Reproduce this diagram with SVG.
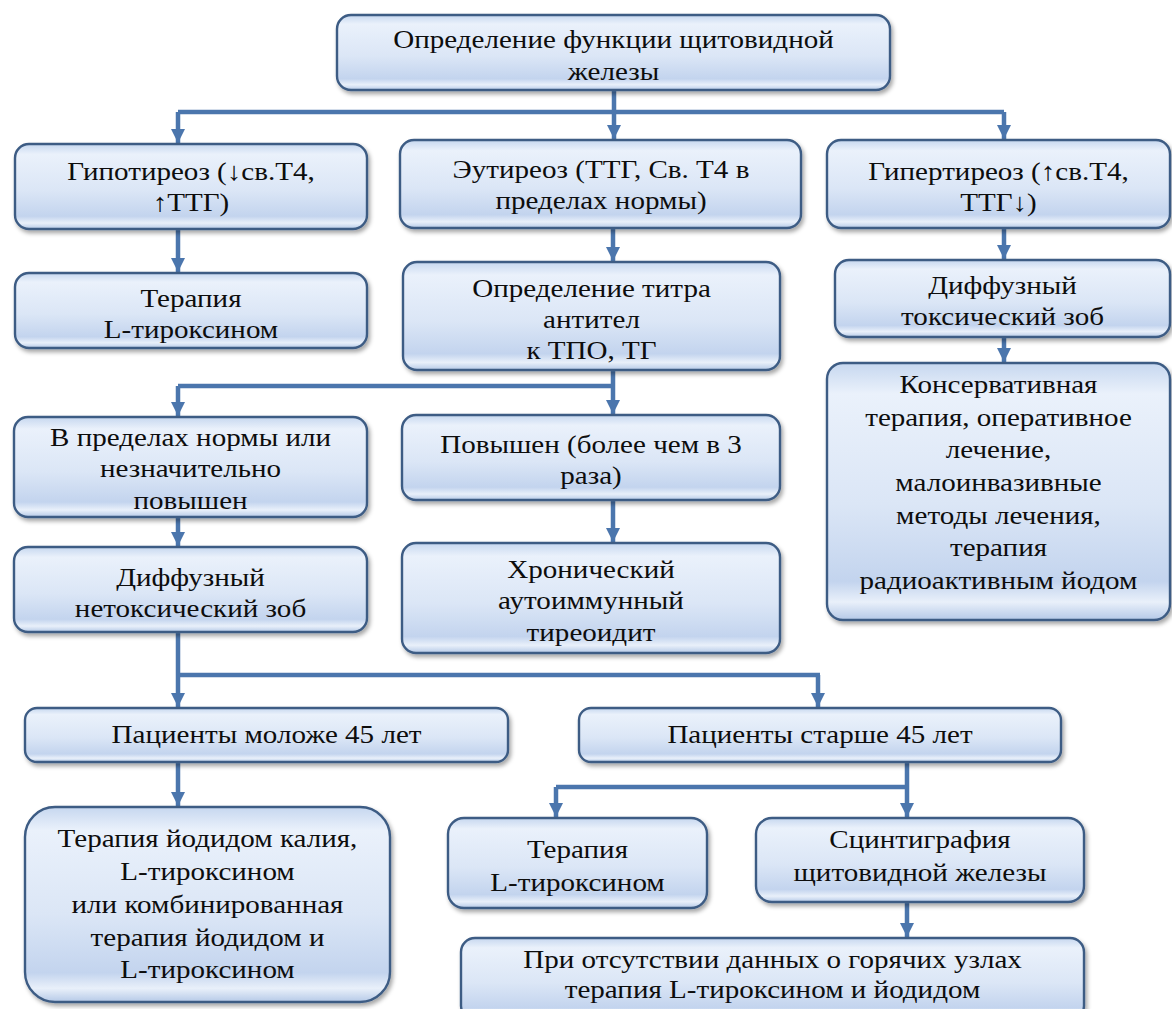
<svg xmlns="http://www.w3.org/2000/svg" width="1172" height="1009" viewBox="0 0 1172 1009">
<style>
.box{fill:url(#g);stroke:#3d5c84;stroke-width:2.4;filter:url(#sh)}
.t{font-family:'Liberation Serif','Times New Roman',serif;font-size:25.5px;fill:#0d0d0d;text-anchor:middle}
.c{fill:none;stroke:#4b76ad;stroke-width:4.5}
.a{stroke:#4b76ad;stroke-width:4.5;fill:none;marker-end:url(#ah)}
</style>
<defs>
<linearGradient id="g" x1="0" y1="0" x2="0" y2="1">
<stop offset="0" stop-color="#c6d7ef"/>
<stop offset="0.12" stop-color="#eaf1fb"/>
<stop offset="0.55" stop-color="#dbe6f6"/>
<stop offset="0.85" stop-color="#c3d4ee"/>
<stop offset="0.93" stop-color="#e9f0fa"/>
<stop offset="1" stop-color="#b5c9e7"/>
</linearGradient>
<filter id="sh" x="-5%" y="-10%" width="112%" height="130%">
<feDropShadow dx="2" dy="3" stdDeviation="2" flood-color="#000" flood-opacity="0.35"/>
</filter>
<marker id="ah" markerUnits="userSpaceOnUse" markerWidth="18" markerHeight="16" refX="14" refY="8" orient="auto">
<path d="M0,1 L14,8 L0,15 Z" fill="#4b76ad"/>
</marker>
</defs>

<g id="connectors">
<path class="c" d="M614,90 V112 M178,112 H1004"/>
<path class="a" d="M178,112 V143"/>
<path class="a" d="M614,112 V139"/>
<path class="a" d="M1004,112 V139"/>
<path class="a" d="M178,229 V272"/>
<path class="a" d="M613,228 V261"/>
<path class="a" d="M1004,228 V259"/>
<path class="a" d="M1004,337 V362"/>
<path class="c" d="M613,370 V386 M178,386 H615"/>
<path class="a" d="M178,386 V416"/>
<path class="a" d="M613,386 V414"/>
<path class="a" d="M178,517 V546"/>
<path class="a" d="M613,500 V542"/>
<path class="c" d="M178,632 V675 M178,675 H820"/>
<path class="a" d="M178,675 V707"/>
<path class="a" d="M818,675 V707"/>
<path class="a" d="M178,762 V806"/>
<path class="c" d="M907,762 V787 M556,787 H909"/>
<path class="a" d="M556,787 V817"/>
<path class="a" d="M907,787 V817"/>
<path class="a" d="M907,902 V937"/>
</g>

<g id="n1"><rect class="box" x="337" y="15" width="553" height="75" rx="14"/>
<text class="t" transform="translate(613.5 0) scale(1.14 1)"><tspan x="0" y="48">Определение функции щитовидной</tspan><tspan x="0" y="80">железы</tspan></text></g>

<g id="n2"><rect class="box" x="15" y="144" width="352" height="85" rx="14"/>
<text class="t" transform="translate(191 0) scale(1.14 1)"><tspan x="0" y="180">Гипотиреоз (↓св.Т4,</tspan><tspan x="0" y="211">↑ТТГ)</tspan></text></g>

<g id="n3"><rect class="box" x="400" y="140" width="401" height="88" rx="14"/>
<text class="t" transform="translate(601 0) scale(1.14 1)"><tspan x="0" y="178">Эутиреоз (ТТГ, Св. Т4 в</tspan><tspan x="0" y="209">пределах нормы)</tspan></text></g>

<g id="n4"><rect class="box" x="827" y="140" width="343" height="88" rx="14"/>
<text class="t" transform="translate(998.5 0) scale(1.14 1)"><tspan x="0" y="180">Гипертиреоз (↑св.Т4,</tspan><tspan x="0" y="211">ТТГ↓)</tspan></text></g>

<g id="n5"><rect class="box" x="15" y="273" width="352" height="75" rx="14"/>
<text class="t" transform="translate(191 0) scale(1.14 1)"><tspan x="0" y="307">Терапия</tspan><tspan x="0" y="338">L-тироксином</tspan></text></g>

<g id="n6"><rect class="box" x="403" y="262" width="377" height="108" rx="14"/>
<text class="t" transform="translate(591.5 0) scale(1.14 1)"><tspan x="0" y="297">Определение титра</tspan><tspan x="0" y="328">антител</tspan><tspan x="0" y="359">к ТПО, ТГ</tspan></text></g>

<g id="n7"><rect class="box" x="835" y="260" width="335" height="77" rx="14"/>
<text class="t" transform="translate(1002.5 0) scale(1.14 1)"><tspan x="0" y="294">Диффузный</tspan><tspan x="0" y="325">токсический зоб</tspan></text></g>

<g id="n8"><rect class="box" x="827" y="363" width="343" height="257" rx="16"/>
<text class="t" transform="translate(998.5 0) scale(1.14 1)"><tspan x="0" y="393">Консервативная</tspan><tspan x="0" y="425.7">терапия, оперативное</tspan><tspan x="0" y="458.3">лечение,</tspan><tspan x="0" y="491">малоинвазивные</tspan><tspan x="0" y="523.7">методы лечения,</tspan><tspan x="0" y="556.3">терапия</tspan><tspan x="0" y="589">радиоактивным йодом</tspan></text></g>

<g id="n9"><rect class="box" x="14" y="417" width="353" height="100" rx="14"/>
<text class="t" transform="translate(190.5 0) scale(1.14 1)"><tspan x="0" y="446">В пределах нормы или</tspan><tspan x="0" y="477">незначительно</tspan><tspan x="0" y="509">повышен</tspan></text></g>

<g id="n10"><rect class="box" x="402" y="415" width="378" height="85" rx="14"/>
<text class="t" transform="translate(591 0) scale(1.14 1)"><tspan x="0" y="453">Повышен (более чем в 3</tspan><tspan x="0" y="484">раза)</tspan></text></g>

<g id="n11"><rect class="box" x="14" y="547" width="353" height="85" rx="14"/>
<text class="t" transform="translate(190.5 0) scale(1.14 1)"><tspan x="0" y="586">Диффузный</tspan><tspan x="0" y="617">нетоксический зоб</tspan></text></g>

<g id="n12"><rect class="box" x="402" y="543" width="378" height="110" rx="14"/>
<text class="t" transform="translate(591 0) scale(1.14 1)"><tspan x="0" y="578">Хронический</tspan><tspan x="0" y="609">аутоиммунный</tspan><tspan x="0" y="641">тиреоидит</tspan></text></g>

<g id="n13"><rect class="box" x="25" y="708" width="483" height="54" rx="12"/>
<text class="t" transform="translate(266.5 0) scale(1.14 1)"><tspan x="0" y="743">Пациенты моложе 45 лет</tspan></text></g>

<g id="n14"><rect class="box" x="25" y="807" width="365" height="195" rx="30"/>
<text class="t" transform="translate(207.5 0) scale(1.14 1)"><tspan x="0" y="847">Терапия йодидом калия,</tspan><tspan x="0" y="880">L-тироксином</tspan><tspan x="0" y="913">или комбинированная</tspan><tspan x="0" y="946">терапия йодидом и</tspan><tspan x="0" y="978">L-тироксином</tspan></text></g>

<g id="n15"><rect class="box" x="579" y="708" width="482" height="54" rx="12"/>
<text class="t" transform="translate(820 0) scale(1.14 1)"><tspan x="0" y="743">Пациенты старше 45 лет</tspan></text></g>

<g id="n16"><rect class="box" x="448" y="818" width="259" height="90" rx="16"/>
<text class="t" transform="translate(577.5 0) scale(1.14 1)"><tspan x="0" y="858">Терапия</tspan><tspan x="0" y="891">L-тироксином</tspan></text></g>

<g id="n17"><rect class="box" x="756" y="818" width="328" height="84" rx="16"/>
<text class="t" transform="translate(920 0) scale(1.14 1)"><tspan x="0" y="848">Сцинтиграфия</tspan><tspan x="0" y="881">щитовидной железы</tspan></text></g>

<g id="n18"><rect class="box" x="461" y="938" width="623" height="82" rx="14"/>
<text class="t" transform="translate(772.5 0) scale(1.14 1)"><tspan x="0" y="968">При отсутствии данных о горячих узлах</tspan><tspan x="0" y="998">терапия L-тироксином и йодидом</tspan></text></g>
</svg>
